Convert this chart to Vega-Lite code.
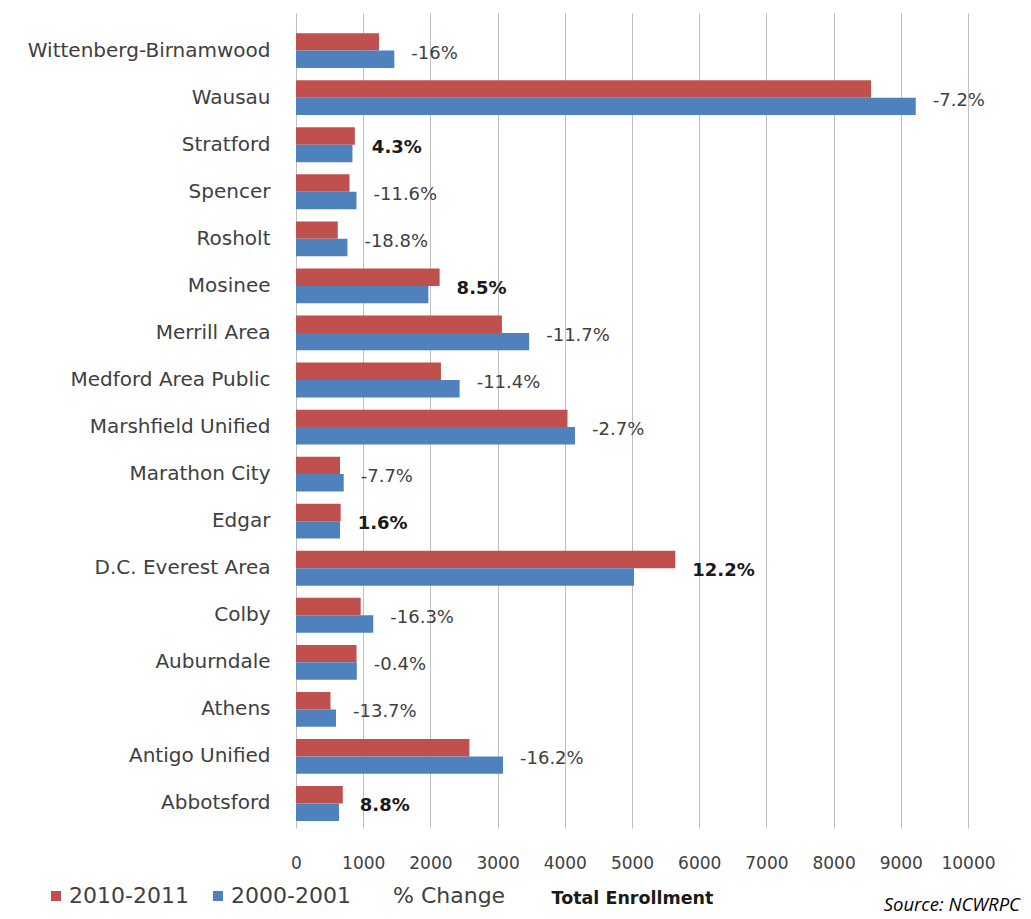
{
  "$schema": "https://vega.github.io/schema/vega-lite/v6.json",
  "autosize": {"type": "none"},
  "width": 672,
  "height": 815,
  "padding": {"left": 296, "top": 13, "right": 63, "bottom": 91},
  "background": "#ffffff",
  "config": {
    "view": {"stroke": null},
    "font": "DejaVu Sans"
  },
  "title": {
    "text": "Source: NCWRPC",
    "orient": "bottom",
    "anchor": "end",
    "frame": "group",
    "font": "Open Sans",
    "fontStyle": "italic",
    "fontWeight": "normal",
    "fontSize": 18.5,
    "color": "#000000",
    "dx": 52,
    "offset": 4,
    "baseline": "alphabetic"
  },
  "data": {
    "values": [
      {"district": "Wittenberg-Birnamwood", "2010-2011": 1235, "2000-2001": 1463, "change": "-16%"},
      {"district": "Wausau", "2010-2011": 8558, "2000-2001": 9222, "change": "-7.2%"},
      {"district": "Stratford", "2010-2011": 876, "2000-2001": 840, "change": "4.3%"},
      {"district": "Spencer", "2010-2011": 796, "2000-2001": 900, "change": "-11.6%"},
      {"district": "Rosholt", "2010-2011": 621, "2000-2001": 765, "change": "-18.8%"},
      {"district": "Mosinee", "2010-2011": 2137, "2000-2001": 1970, "change": "8.5%"},
      {"district": "Merrill Area", "2010-2011": 3064, "2000-2001": 3470, "change": "-11.7%"},
      {"district": "Medford Area Public", "2010-2011": 2157, "2000-2001": 2435, "change": "-11.4%"},
      {"district": "Marshfield Unified", "2010-2011": 4040, "2000-2001": 4152, "change": "-2.7%"},
      {"district": "Marathon City", "2010-2011": 655, "2000-2001": 710, "change": "-7.7%"},
      {"district": "Edgar", "2010-2011": 665, "2000-2001": 655, "change": "1.6%"},
      {"district": "D.C. Everest Area", "2010-2011": 5644, "2000-2001": 5030, "change": "12.2%"},
      {"district": "Colby", "2010-2011": 963, "2000-2001": 1150, "change": "-16.3%"},
      {"district": "Auburndale", "2010-2011": 901, "2000-2001": 905, "change": "-0.4%"},
      {"district": "Athens", "2010-2011": 513, "2000-2001": 595, "change": "-13.7%"},
      {"district": "Antigo Unified", "2010-2011": 2581, "2000-2001": 3080, "change": "-16.2%"},
      {"district": "Abbotsford", "2010-2011": 696, "2000-2001": 640, "change": "8.8%"}
    ]
  },
  "transform": [
    {"fold": ["2010-2011", "2000-2001"], "as": ["period", "enrollment"]}
  ],
  "encoding": {
    "y": {
      "field": "district",
      "type": "nominal",
      "sort": null,
      "scale": {"paddingInner": 0.26, "paddingOuter": 0.29, "align": 0.74},
      "axis": {
        "title": null,
        "domain": false,
        "ticks": false,
        "tickSize": 0,
        "grid": false,
        "labelPadding": 26,
        "labelFont": "DejaVu Sans",
        "labelFontSize": 20,
        "labelColor": "#404040",
        "labelLimit": 400
      }
    },
    "x": {
      "field": "enrollment",
      "type": "quantitative",
      "scale": {"domain": [0, 10000], "nice": false},
      "axis": {
        "values": [0, 1000, 2000, 3000, 4000, 5000, 6000, 7000, 8000, 9000, 10000],
        "format": "d",
        "domain": false,
        "ticks": false,
        "tickSize": 0,
        "grid": true,
        "gridColor": "#BFBFBF",
        "gridWidth": 1,
        "labelFont": "DejaVu Sans",
        "labelFontSize": 17,
        "labelColor": "#404040",
        "labelBaseline": "alphabetic",
        "labelPadding": 40,
        "labelFlush": false,
        "labelOverlap": false,
        "title": "Total Enrollment",
        "titleFont": "DejaVu Sans",
        "titleFontWeight": "bold",
        "titleFontSize": 17.5,
        "titleColor": "#1a1a1a",
        "titleBaseline": "alphabetic",
        "titleY": 75
      }
    }
  },
  "layer": [
    {
      "mark": {"type": "bar"},
      "encoding": {
        "yOffset": {"field": "period", "type": "nominal", "sort": ["2010-2011", "2000-2001"], "scale": {"paddingInner": 0, "paddingOuter": 0}},
        "color": {
          "field": "period",
          "type": "nominal",
          "scale": {
            "domain": ["2010-2011", "2000-2001", "% Change"],
            "range": ["#C0504D", "#4F81BD", "transparent"]
          },
          "legend": {
            "title": null,
            "orient": "none",
            "direction": "horizontal",
            "legendX": -251,
            "legendY": 872,
            "columnPadding": 18,
            "symbolType": "square",
            "symbolSize": 100,
            "symbolStrokeWidth": 0,
            "labelOffset": 2,
            "labelFont": "DejaVu Sans",
            "labelFontSize": 22,
            "labelColor": "#404040",
            "labelLimit": 300
          }
        }
      }
    },
    {
      "transform": [{"filter": "indexof(datum.change, '-') === 0"}],
      "mark": {"type": "text", "align": "left", "baseline": "middle", "dx": 17, "dy": 3, "font": "DejaVu Sans", "fontSize": 18, "color": "#404040"},
      "encoding": {
        "x": {"aggregate": "max", "field": "enrollment", "type": "quantitative"},
        "text": {"field": "change", "type": "nominal"}
      }
    },
    {
      "transform": [{"filter": "indexof(datum.change, '-') !== 0"}],
      "mark": {"type": "text", "align": "left", "baseline": "middle", "dx": 17, "dy": 3, "font": "DejaVu Sans", "fontSize": 18, "fontWeight": "bold", "color": "#1a1a1a"},
      "encoding": {
        "x": {"aggregate": "max", "field": "enrollment", "type": "quantitative"},
        "text": {"field": "change", "type": "nominal"}
      }
    }
  ]
}
